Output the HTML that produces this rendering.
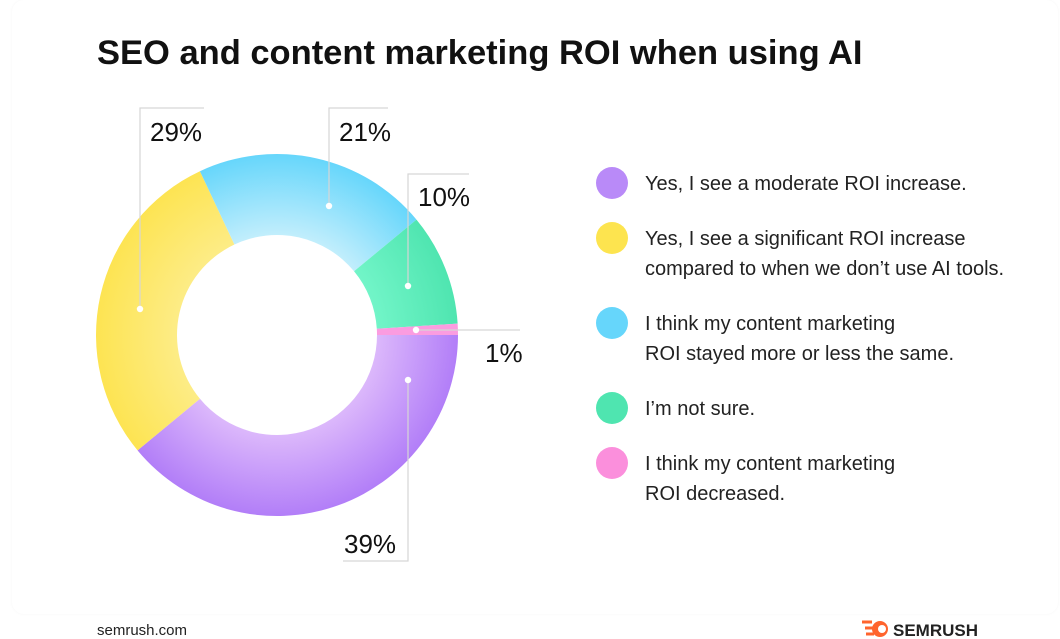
<!DOCTYPE html>
<html><head><meta charset="utf-8"><style>
body{margin:0;width:1060px;height:639px;background:#fff;font-family:"Liberation Sans",sans-serif;overflow:hidden;position:relative}
.card{position:absolute;left:12px;top:0;width:1046px;height:614px;border-radius:12px;background:#fff;box-shadow:0 0 3px rgba(0,0,0,0.04)}
</style></head><body>
<div class="card"></div>
<svg width="1060" height="639" style="position:absolute;left:0;top:0">
<defs>
<radialGradient id="g0" gradientUnits="userSpaceOnUse" cx="277" cy="335" r="181"><stop offset="0.55" stop-color="#dcb8fb"/><stop offset="1" stop-color="#b27ef8"/></radialGradient>
<radialGradient id="g1" gradientUnits="userSpaceOnUse" cx="277" cy="335" r="181"><stop offset="0.55" stop-color="#fdec86"/><stop offset="1" stop-color="#fde452"/></radialGradient>
<radialGradient id="g2" gradientUnits="userSpaceOnUse" cx="277" cy="335" r="181"><stop offset="0.55" stop-color="#c2eefc"/><stop offset="1" stop-color="#66d6fb"/></radialGradient>
<radialGradient id="g3" gradientUnits="userSpaceOnUse" cx="277" cy="335" r="181"><stop offset="0.55" stop-color="#72f5c8"/><stop offset="1" stop-color="#4fe5b0"/></radialGradient>
<radialGradient id="g4" gradientUnits="userSpaceOnUse" cx="277" cy="335" r="181"><stop offset="0" stop-color="#fb9ce0"/><stop offset="1" stop-color="#fb9ce0"/></radialGradient>
</defs>
<text x="97" y="64" font-size="34.5" font-weight="bold" fill="#111">SEO and content marketing ROI when using AI</text>
<g id="slices"></g>
<g id="leaders" stroke="#d6d6d6" stroke-width="1.2" fill="none">
<polyline points="204,108 140,108 140,309"/>
<polyline points="388,108 329,108 329,206"/>
<polyline points="469,174 408,174 408,286"/>
<polyline points="416,330 520,330"/>
<polyline points="408,380 408,561 343,561"/>
</g>
<g fill="#fff">
<circle cx="140" cy="309" r="3.2"/><circle cx="329" cy="206" r="3.2"/><circle cx="408" cy="286" r="3.2"/><circle cx="416" cy="330" r="3.2"/><circle cx="408" cy="380" r="3.2"/>
</g>
<g font-size="26" fill="#111">
<text x="150" y="141">29%</text>
<text x="339" y="141">21%</text>
<text x="418" y="206">10%</text>
<text x="485" y="362">1%</text>
<text x="344" y="553">39%</text>
</g>
<g font-size="20" fill="#222">
<circle cx="612" cy="183" r="16" fill="#b98af8"/>
<text x="645" y="190">Yes, I see a moderate ROI increase.</text>
<circle cx="612" cy="238" r="16" fill="#fde44f"/>
<text x="645" y="245">Yes, I see a significant ROI increase</text>
<text x="645" y="275">compared to when we don’t use AI tools.</text>
<circle cx="612" cy="323" r="16" fill="#66d6fb"/>
<text x="645" y="330">I think my content marketing</text>
<text x="645" y="360">ROI stayed more or less the same.</text>
<circle cx="612" cy="408" r="16" fill="#4fe5b0"/>
<text x="645" y="415">I’m not sure.</text>
<circle cx="612" cy="463" r="16" fill="#fb8fdc"/>
<text x="645" y="470">I think my content marketing</text>
<text x="645" y="500">ROI decreased.</text>
</g>
<text x="97" y="635" font-size="15" fill="#222">semrush.com</text>
<g>
<circle cx="880" cy="629" r="8" fill="#ff642d"/><circle cx="882" cy="629" r="4" fill="#fff"/>
<path d="M862 622 h10 M865 628 h8 M866 634 h8" stroke="#ff642d" stroke-width="3"/>
<text x="893" y="636" font-size="17" font-weight="bold" fill="#222">SEMRUSH</text>
</g>
</svg>
<script>
const categories=["moderate","significant","same","not-sure","decreased"];
const values=[39,29,21,10,1];
const cx=277,cy=335,R=181,r=100;
const g=document.getElementById('slices');
const total=values.reduce((a,b)=>a+b,0);
let a0=0;
function pt(rad,a){return [cx+rad*Math.cos(a),cy+rad*Math.sin(a)];}
values.forEach((v,i)=>{
  const a1=a0+v/total*2*Math.PI;
  const large=(a1-a0)>Math.PI?1:0;
  const [x1,y1]=pt(R,a0),[x2,y2]=pt(R,a1),[x3,y3]=pt(r,a1),[x4,y4]=pt(r,a0);
  const p=document.createElementNS('http://www.w3.org/2000/svg','path');
  p.setAttribute('d',`M${x1},${y1} A${R},${R} 0 ${large} 1 ${x2},${y2} L${x3},${y3} A${r},${r} 0 ${large} 0 ${x4},${y4} Z`);
  p.setAttribute('fill',`url(#g${i})`);
  
  
  g.appendChild(p);
  a0=a1;
});
</script>
</body></html>
